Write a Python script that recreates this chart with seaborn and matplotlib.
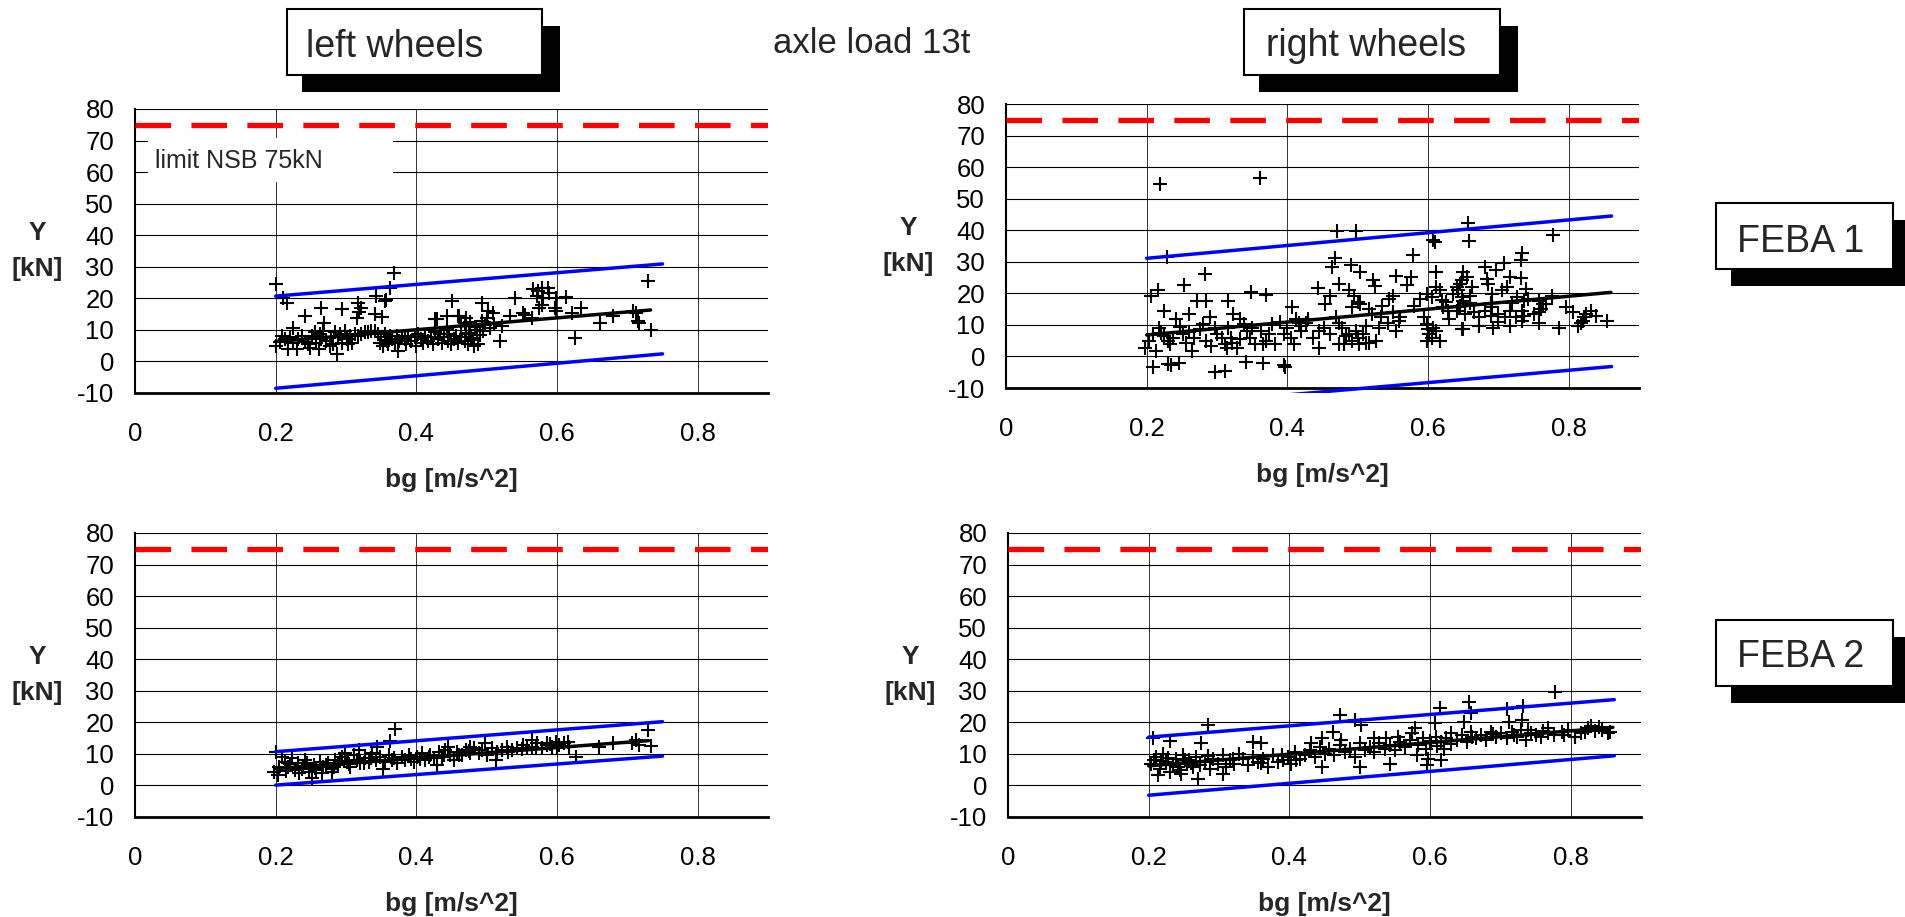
import pandas as pd
import seaborn as sb
from matplotlib import pyplot as plt
from matplotlib.patches import Rectangle
from matplotlib.transforms import Bbox, TransformedBbox

# * chart data
bg_ticks = [0, 0.2, 0.4, 0.6, 0.8]
bg_ticklabels = ["0", "0.2", "0.4", "0.6", "0.8"]
y_ticks = [-10, 0, 10, 20, 30, 40, 50, 60, 70, 80]
limit_nsb = 75

feba1_left = [
    (0.201, 24.6), (0.211, 20.2), (0.216, 18.6), (0.242, 14.3), (0.264, 16.8), (0.269, 12.2),
    (0.295, 16.7), (0.225, 10.6), (0.317, 18.6), (0.321, 16.8), (0.316, 13.8), (0.318, 15.7),
    (0.343, 20.7), (0.351, 14.0), (0.341, 15.0), (0.357, 19.6), (0.362, 23.3), (0.368, 28.1),
    (0.355, 19.1), (0.451, 19.3), (0.444, 14.3), (0.461, 14.3), (0.429, 13.3), (0.426, 13.4),
    (0.459, 14.4), (0.469, 12.3), (0.464, 11.3),
    (0.201, 4.9), (0.206, 6.3), (0.209, 8.1), (0.213, 7.1), (0.218, 3.9), (0.220, 7.6),
    (0.225, 6.0), (0.230, 3.9), (0.232, 7.1), (0.237, 8.1), (0.242, 6.3), (0.246, 5.5),
    (0.249, 4.4), (0.251, 8.1), (0.256, 9.2), (0.258, 6.0), (0.261, 3.9), (0.263, 8.6),
    (0.265, 7.1), (0.268, 9.7), (0.272, 6.5), (0.277, 4.9), (0.279, 7.6), (0.282, 5.5),
    (0.284, 9.2), (0.287, 2.3), (0.289, 7.6), (0.291, 8.6), (0.294, 6.0), (0.298, 9.7),
    (0.301, 7.1), (0.303, 5.5), (0.305, 8.1), (0.308, 6.0), (0.313, 8.6), (0.317, 8.1),
    (0.322, 8.6), (0.327, 9.2), (0.331, 9.2), (0.336, 9.7), (0.341, 9.7), (0.346, 8.6),
    (0.348, 6.0), (0.350, 7.6), (0.353, 4.9), (0.355, 8.6), (0.358, 6.5), (0.360, 5.5),
    (0.362, 8.1), (0.365, 7.1), (0.369, 6.0), (0.372, 8.1), (0.374, 3.4), (0.376, 6.5),
    (0.379, 7.6), (0.384, 7.1), (0.386, 5.5), (0.388, 8.1), (0.393, 6.5), (0.398, 7.6),
    (0.400, 4.9), (0.402, 8.6), (0.407, 7.1), (0.410, 6.0), (0.412, 8.1), (0.417, 6.5),
    (0.421, 7.6), (0.424, 5.5), (0.426, 9.2), (0.431, 7.1), (0.433, 8.6), (0.436, 6.0),
    (0.440, 7.6), (0.443, 10.2), (0.445, 6.5), (0.447, 8.6), (0.450, 5.5), (0.454, 7.1),
    (0.457, 8.1), (0.459, 6.0), (0.464, 7.6), (0.469, 6.5), (0.471, 8.6), (0.473, 5.5),
    (0.471, 13.8), (0.493, 18.6), (0.540, 20.2), (0.566, 22.8), (0.573, 22.3), (0.578, 23.3),
    (0.587, 23.3), (0.589, 21.7), (0.571, 20.7), (0.580, 20.2), (0.578, 18.0), (0.575, 17.0),
    (0.598, 20.2), (0.597, 17.0), (0.598, 16.0), (0.613, 20.4), (0.634, 17.0), (0.622, 15.4),
    (0.552, 15.4), (0.555, 14.7), (0.564, 13.8), (0.533, 14.3), (0.522, 11.2), (0.519, 6.6),
    (0.509, 15.4), (0.502, 16.0), (0.500, 13.8), (0.493, 12.7), (0.490, 8.5), (0.481, 6.9),
    (0.486, 10.0), (0.626, 7.5), (0.661, 12.2), (0.680, 14.5), (0.708, 16.1), (0.712, 15.4),
    (0.715, 12.7), (0.717, 12.2), (0.733, 10.1), (0.729, 25.5),
    (0.475, 9.0), (0.478, 7.5), (0.483, 11.0), (0.488, 5.5), (0.495, 9.5), (0.498, 11.5),
    (0.505, 10.5), (0.510, 12.0), (0.482, 4.8), (0.476, 12.5),
]
feba1_left_fit = ([0.2, 0.733], [6.3, 16.3])
feba1_left_upper = ([0.2, 0.75], [20.7, 30.9])
feba1_left_lower = ([0.2, 0.75], [-8.5, 2.4])

feba1_right = [
    (0.219, 54.6), (0.361, 56.7), (0.229, 31.4), (0.283, 26.0), (0.253, 22.7), (0.216, 20.9),
    (0.206, 19.0), (0.272, 17.5), (0.285, 17.5), (0.315, 17.5), (0.348, 20.4), (0.369, 19.6),
    (0.260, 13.4), (0.224, 14.5), (0.290, 12.6), (0.323, 13.4), (0.333, 11.8), (0.407, 15.8),
    (0.242, 11.8), (0.247, 9.4), (0.218, 9.1), (0.209, 7.0), (0.204, 4.9), (0.197, 2.7),
    (0.213, 1.7), (0.233, 3.8), (0.225, 6.5), (0.237, 5.9), (0.252, 7.0), (0.256, 4.3),
    (0.264, 1.7), (0.268, 5.9), (0.276, 8.6), (0.280, 10.2), (0.285, 4.9), (0.292, 3.3),
    (0.297, 9.1), (0.307, 5.9), (0.311, 3.8), (0.314, 2.7), (0.316, 9.1), (0.321, 4.3),
    (0.328, 2.7), (0.333, 5.4), (0.338, 10.2), (0.342, 8.1), (0.347, 5.9), (0.354, 3.8),
    (0.362, 8.1), (0.366, 3.8), (0.374, 7.0), (0.378, 10.2), (0.383, 3.8), (0.395, 7.0),
    (0.400, 9.1), (0.405, 5.9), (0.409, 3.8), (0.412, 11.8), (0.419, 9.7),
    (0.209, -3.2), (0.230, -2.4), (0.235, -2.6), (0.246, -2.1), (0.297, -4.8), (0.311, -4.5),
    (0.341, -1.8), (0.365, -2.1), (0.395, -2.6), (0.397, -3.2),
    (0.470, 39.8), (0.497, 39.8), (0.610, 36.4), (0.607, 37.0), (0.578, 32.1), (0.468, 31.1),
    (0.463, 28.2), (0.490, 28.9), (0.503, 26.8), (0.522, 24.1), (0.524, 22.2), (0.554, 25.4),
    (0.576, 25.2), (0.570, 22.5), (0.612, 26.8), (0.443, 21.8), (0.474, 23.0),
    (0.461, 19.0), (0.454, 16.6), (0.488, 20.9), (0.495, 19.3), (0.500, 17.2), (0.492, 15.6),
    (0.504, 16.6), (0.550, 19.0), (0.545, 18.2), (0.535, 16.1), (0.516, 15.0), (0.521, 13.4),
    (0.533, 12.4), (0.543, 10.7), (0.559, 11.3), (0.555, 8.1), (0.531, 9.1), (0.512, 9.7),
    (0.588, 18.2), (0.598, 19.8), (0.605, 18.8), (0.612, 22.0), (0.617, 20.9), (0.626, 17.2),
    (0.636, 19.8), (0.641, 22.0), (0.645, 23.0), (0.650, 17.7), (0.622, 15.6), (0.629, 14.5),
    (0.641, 14.5), (0.645, 16.1), (0.595, 12.4), (0.598, 10.2), (0.600, 8.6), (0.602, 7.0),
    (0.605, 5.9), (0.598, 4.9), (0.607, 9.1), (0.612, 8.1), (0.617, 4.9),
    (0.416, 10.7), (0.426, 10.7), (0.437, 5.9), (0.445, 8.1), (0.452, 9.1), (0.461, 7.0),
    (0.445, 2.7), (0.469, 12.4), (0.473, 10.7), (0.478, 9.1), (0.483, 6.5), (0.488, 7.0),
    (0.492, 4.9), (0.497, 8.1), (0.500, 5.9), (0.502, 3.8), (0.507, 7.0), (0.512, 4.3),
    (0.473, 3.8), (0.480, 3.8), (0.516, 4.3), (0.526, 4.9), (0.650, 8.6),
    (0.657, 42.3), (0.659, 36.6), (0.778, 38.6), (0.734, 32.9), (0.732, 30.5), (0.708, 29.5),
    (0.681, 28.2), (0.696, 27.3), (0.717, 25.2), (0.732, 25.0), (0.650, 26.8), (0.655, 25.2),
    (0.648, 24.1), (0.684, 24.7), (0.686, 23.0), (0.662, 22.0), (0.712, 22.0), (0.739, 21.4),
    (0.643, 20.9), (0.648, 18.8), (0.660, 19.3), (0.691, 19.8), (0.705, 20.9), (0.727, 18.8),
    (0.737, 17.7), (0.742, 18.2), (0.758, 17.7), (0.768, 16.6), (0.777, 19.3),
    (0.643, 15.6), (0.653, 13.4), (0.665, 14.0), (0.672, 12.4), (0.681, 14.5), (0.689, 12.9),
    (0.691, 15.6), (0.700, 13.4), (0.710, 12.4), (0.717, 14.5), (0.725, 12.4), (0.737, 12.9),
    (0.734, 14.5), (0.758, 14.0), (0.763, 16.6), (0.648, 8.6), (0.672, 9.7), (0.693, 9.1),
    (0.717, 9.7), (0.734, 11.3), (0.758, 10.7), (0.786, 9.1), (0.796, 15.6), (0.806, 14.0),
    (0.813, 9.7), (0.822, 12.4), (0.832, 14.5), (0.839, 12.9), (0.854, 11.3), (0.820, 11.3),
    (0.825, 13.4), (0.818, 10.7),
    (0.220, 7.5), (0.230, 5.0), (0.260, 7.8), (0.300, 7.0), (0.320, 6.0), (0.350, 9.0),
    (0.370, 5.0), (0.390, 11.0), (0.420, 8.0), (0.430, 12.0), (0.550, 14.0), (0.560, 12.5),
    (0.580, 16.0), (0.620, 18.0), (0.630, 12.0), (0.660, 16.8), (0.690, 17.0), (0.700, 11.0),
    (0.720, 16.8), (0.750, 13.5), (0.760, 15.0),
]
feba1_right_fit = ([0.2, 0.86], [6.8, 20.3])
feba1_right_upper = ([0.2, 0.861], [31.1, 44.5])
feba1_right_lower = ([0.2, 0.861], [-16.1, -3.2])

feba2_left = [
    (0.369, 17.9), (0.363, 14.2), (0.730, 17.7), (0.733, 12.5), (0.712, 14.5), (0.627, 9.1),
    (0.660, 12.1), (0.679, 13.3), (0.615, 13.9), (0.565, 14.5), (0.498, 13.6), (0.477, 12.3),
    (0.445, 12.3), (0.344, 12.3), (0.318, 11.2), (0.299, 10.2), (0.200, 10.7), (0.204, 3.2),
    (0.197, 4.3), (0.251, 2.5), (0.280, 4.3), (0.353, 5.3), (0.429, 6.4), (0.513, 8.0),
    (0.586, 12.9), (0.598, 13.9),
    (0.209, 9.1), (0.213, 7.5), (0.218, 5.9), (0.223, 8.6), (0.228, 4.8), (0.232, 7.0),
    (0.237, 5.3), (0.242, 8.0), (0.247, 4.3), (0.254, 6.4), (0.258, 4.8), (0.263, 7.5),
    (0.268, 5.9), (0.275, 7.0), (0.280, 5.3), (0.285, 8.0), (0.289, 6.4), (0.294, 9.1),
    (0.301, 7.5), (0.306, 5.9), (0.311, 9.6), (0.315, 8.0), (0.320, 7.0), (0.327, 8.6),
    (0.332, 7.5), (0.337, 10.2), (0.342, 8.0), (0.349, 9.1), (0.356, 7.5), (0.361, 9.6),
    (0.368, 8.6), (0.372, 7.0), (0.380, 9.1), (0.384, 8.0), (0.389, 9.6), (0.396, 7.5),
    (0.401, 9.1), (0.408, 10.2), (0.413, 8.0), (0.420, 9.6), (0.425, 8.6), (0.432, 10.7),
    (0.437, 9.1), (0.441, 11.2), (0.448, 9.6), (0.453, 8.0), (0.458, 10.7), (0.465, 9.6),
    (0.470, 11.2), (0.477, 10.2), (0.482, 11.8), (0.489, 10.2), (0.494, 11.2), (0.501, 9.6),
    (0.508, 11.8), (0.515, 10.7), (0.522, 11.2), (0.529, 12.3), (0.536, 11.2), (0.543, 11.8),
    (0.551, 12.9), (0.558, 11.8), (0.565, 12.3), (0.572, 13.4), (0.579, 11.8), (0.586, 13.4),
    (0.593, 12.3), (0.603, 12.9), (0.610, 13.4), (0.617, 12.3), (0.707, 13.4), (0.716, 12.9),
    (0.205, 6.0), (0.215, 4.5), (0.221, 6.8), (0.233, 3.8), (0.239, 6.2), (0.245, 7.2),
    (0.256, 5.6), (0.266, 4.0), (0.272, 6.6), (0.283, 5.9), (0.292, 7.8), (0.304, 6.8),
    (0.325, 7.2), (0.335, 8.8), (0.365, 8.2), (0.392, 8.4), (0.405, 8.4), (0.418, 9.0),
    (0.440, 9.8), (0.460, 9.5), (0.475, 10.9), (0.530, 10.6), (0.550, 11.4), (0.570, 12.0),
    (0.590, 13.0), (0.600, 12.0),
]
feba2_left_fit = ([0.2, 0.73], [5.3, 14.2])
feba2_left_upper = ([0.2, 0.75], [10.7, 20.2])
feba2_left_lower = ([0.2, 0.75], [0.1, 9.3])

feba2_right = [
    (0.778, 29.6), (0.656, 26.4), (0.732, 25.3), (0.614, 24.5), (0.709, 24.1), (0.658, 22.9),
    (0.472, 22.3), (0.493, 20.7), (0.607, 19.7), (0.731, 20.7), (0.284, 19.1), (0.579, 18.3),
    (0.649, 20.2), (0.712, 20.2), (0.829, 18.9), (0.206, 14.9), (0.231, 14.1), (0.275, 13.5),
    (0.348, 13.8), (0.360, 13.3), (0.431, 13.3), (0.446, 14.9), (0.462, 16.8), (0.474, 14.4),
    (0.502, 19.1), (0.521, 14.9), (0.538, 14.9), (0.555, 15.4), (0.574, 16.5), (0.768, 18.1),
    (0.853, 16.5), (0.806, 15.4),
    (0.270, 1.9), (0.213, 3.2), (0.246, 3.7), (0.306, 3.7), (0.446, 5.9), (0.500, 5.9),
    (0.543, 6.9), (0.596, 6.4), (0.597, 8.5), (0.616, 8.0), (0.582, 9.6),
    (0.204, 6.9), (0.211, 9.0), (0.216, 5.3), (0.220, 10.1), (0.225, 7.4), (0.230, 4.3),
    (0.235, 6.4), (0.239, 8.5), (0.244, 4.8), (0.249, 9.6), (0.254, 6.9), (0.258, 8.0),
    (0.263, 5.9), (0.268, 9.0), (0.273, 6.4), (0.280, 7.4), (0.287, 5.3), (0.291, 8.5),
    (0.299, 6.9), (0.306, 9.6), (0.310, 5.9), (0.315, 8.0), (0.322, 6.9), (0.329, 10.1),
    (0.334, 8.5), (0.341, 6.4), (0.348, 9.0), (0.355, 7.4), (0.363, 8.5), (0.370, 5.9),
    (0.377, 9.6), (0.384, 7.4), (0.391, 8.0), (0.398, 9.0), (0.403, 6.9), (0.408, 10.6),
    (0.415, 8.5), (0.422, 9.6), (0.429, 11.2), (0.436, 9.0), (0.443, 12.2), (0.450, 10.1),
    (0.457, 11.7), (0.464, 9.6), (0.472, 12.8), (0.479, 10.6), (0.486, 11.7), (0.493, 9.0),
    (0.500, 13.3), (0.507, 11.2), (0.514, 12.2), (0.521, 10.6), (0.528, 13.3), (0.536, 11.7),
    (0.543, 12.8), (0.550, 11.2), (0.557, 13.8), (0.564, 12.2), (0.571, 14.4), (0.583, 12.8),
    (0.590, 14.9), (0.595, 11.7), (0.602, 13.3), (0.609, 15.4), (0.616, 13.8), (0.623, 14.9),
    (0.630, 16.5), (0.638, 14.4), (0.645, 16.0), (0.652, 13.8), (0.659, 17.0), (0.666, 14.9),
    (0.673, 16.0), (0.680, 14.4), (0.687, 17.0), (0.694, 15.4), (0.701, 16.5), (0.709, 14.9),
    (0.716, 17.0), (0.723, 15.4), (0.730, 17.6), (0.737, 14.4), (0.744, 16.5), (0.751, 16.0),
    (0.758, 15.4), (0.768, 16.5), (0.777, 16.0), (0.787, 17.0), (0.796, 17.6), (0.806, 15.4),
    (0.815, 16.5), (0.825, 18.1), (0.834, 17.2), (0.844, 17.6), (0.856, 16.8),
    (0.207, 8.0), (0.218, 7.9), (0.228, 8.6), (0.241, 6.0), (0.252, 8.2), (0.260, 7.0),
    (0.285, 9.2), (0.320, 8.4), (0.360, 7.0), (0.390, 9.5), (0.410, 8.0), (0.610, 12.5),
    (0.620, 11.5), (0.600, 14.0), (0.630, 13.0), (0.660, 15.5), (0.690, 16.2), (0.720, 16.0),
    (0.740, 17.5), (0.760, 17.2), (0.790, 16.0), (0.820, 17.0), (0.840, 18.5),
]
feba2_right_fit = ([0.2, 0.86], [6.2, 18.4])
feba2_right_upper = ([0.2, 0.862], [15.3, 27.2])
feba2_right_lower = ([0.2, 0.862], [-3.1, 9.4])

# --- layout (pixels of the 1906x917 canvas) ---
W, H = 1906, 917
FONT = ["Liberation Sans", "DejaVu Sans"]


def px_box(left, top, right, bottom):
    return [left / W, 1 - bottom / H, (right - left) / W, (bottom - top) / H]


def add_label_box(fig, left, top, right, bottom, text, tx, ty, size=27):
    # * black drop shadow, then white framed box, then the text
    fig.add_artist(Rectangle((left + 15, H - bottom - 17), right - left + 3, bottom - top,
                             transform=None, facecolor="black", edgecolor="none", zorder=4))
    fig.add_artist(Rectangle((left, H - bottom), right - left, bottom - top,
                             transform=None, facecolor="white", edgecolor="black",
                             linewidth=1.5, zorder=5))
    fig.text(tx / W, 1 - ty / H, text, fontsize=size, ha="left", va="baseline", zorder=6)


sb.set_style("white")
plt.rcParams["font.family"] = FONT
plt.rcParams["axes.unicode_minus"] = False

fig = plt.figure(figsize=(W / 100, H / 100), dpi=100)

panels = [
    (feba1_left, feba1_left_fit, feba1_left_upper, feba1_left_lower, (135, 109, 768, 393)),
    (feba1_right, feba1_right_fit, feba1_right_upper, feba1_right_lower, (1006, 104, 1639, 388)),
    (feba2_left, feba2_left_fit, feba2_left_upper, feba2_left_lower, (135, 533, 768, 817)),
    (feba2_right, feba2_right_fit, feba2_right_upper, feba2_right_lower, (1008, 533, 1641, 817)),
]

for points, fit, upper, lower, box in panels:
    ax = fig.add_axes(px_box(*box))
    df = pd.DataFrame(points, columns=["bg", "Y"])

    # * grid first, marks on top
    ax.set_axisbelow(True)
    ax.grid(axis="y", color="black", linewidth=0.8)
    ax.grid(axis="x", color="#333333", linewidth=0.7)

    sb.scatterplot(data=df, x="bg", y="Y", marker="+", color="black", s=95,
                   linewidth=1.5, ax=ax, zorder=2)
    for (lx, ly), col in ((upper, "#0000ff"), (lower, "#0000ff"), (fit, "black")):
        sb.lineplot(x=lx, y=ly, color=col, linewidth=2.5, estimator=None, sort=False,
                    ax=ax, zorder=3)
    # * lower bound may poke a little below the frame (as in the original)
    ax.lines[1].set_clip_box(TransformedBbox(Bbox([[0, -0.018], [1, 1]]), ax.transAxes))

    ax.axhline(limit_nsb, color="#ff0000", linewidth=3.8, dashes=(6.75, 3.85), zorder=4)

    ax.set_xlim(0, 0.9)
    ax.set_ylim(-10, 80)
    ax.set_xticks(bg_ticks)
    ax.set_xticklabels(bg_ticklabels)
    ax.set_yticks(y_ticks)
    ax.tick_params(axis="both", direction="out", length=6, width=1.2, color="black",
                   labelsize=18.5, labelcolor="black")
    ax.tick_params(axis="x", pad=15)
    ax.tick_params(axis="y", pad=9)

    for side in ("top", "right"):
        ax.spines[side].set_visible(False)
    ax.spines["left"].set_linewidth(1.5)
    ax.spines["bottom"].set_linewidth(2)
    ax.spines["left"].set_color("black")
    ax.spines["bottom"].set_color("black")

    ax.set_xlabel("bg [m/s^2]", fontsize=19, fontweight="bold")
    ax.xaxis.set_label_coords(0.5, -0.305)
    ax.xaxis.label.set_va("center")
    ax.set_ylabel("Y\n[kN]", rotation=0, fontsize=19, fontweight="bold",
                  linespacing=1.6, ha="center", va="center")
    ax.yaxis.set_label_coords(-0.155, 0.5)

# * limit annotation in the first panel (white patch hides the grid behind it)
fig.add_artist(Rectangle((148, H - 182), 245, 44, transform=None,
                         facecolor="white", edgecolor="none", zorder=5))
fig.text(155 / W, 1 - 168 / H, "limit NSB 75kN", fontsize=18, ha="left", va="baseline", zorder=6)

# * header and side labels
fig.text(773 / W, 1 - 53 / H, "axle load 13t", fontsize=25, ha="left", va="baseline")
add_label_box(fig, 287, 9, 542, 75, "left wheels", 306, 57)
add_label_box(fig, 1244, 9, 1500, 75, "right wheels", 1266, 56)
add_label_box(fig, 1716, 203, 1893, 269, "FEBA 1", 1737, 252)
add_label_box(fig, 1716, 620, 1893, 686, "FEBA 2", 1737, 667)

fig.savefig("out.png", dpi=100)
plt.close(fig)
